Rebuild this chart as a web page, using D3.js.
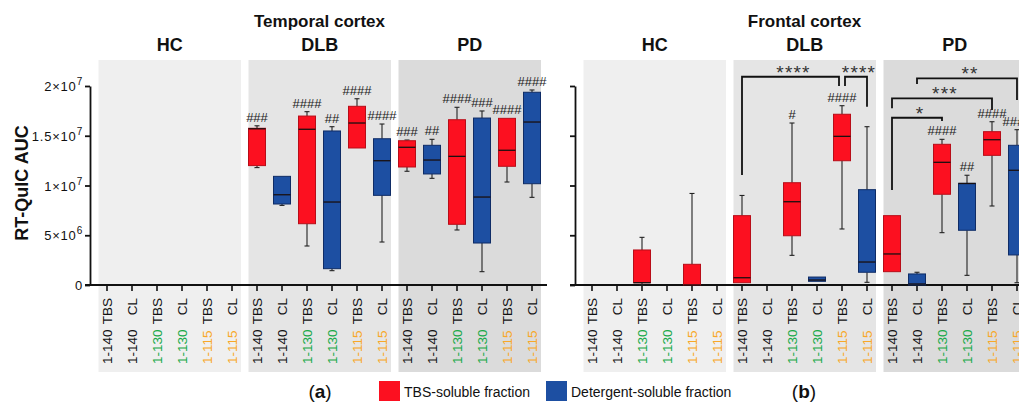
<!DOCTYPE html>
<html>
<head>
<meta charset="utf-8">
<script src="https://cdn.jsdelivr.net/npm/d3@7"></script>
<style>
  html, body { margin: 0; padding: 0; background: #fff; }
  svg { display: block; font-family: Arial, "Liberation Sans", sans-serif; }
</style>
</head>
<body>
<svg id="chart" width="1019" height="403"></svg>
<script>
// ---- data -------------------------------------------------------------
const groups = ["HC", "DLB", "PD"];
const peptides = ["1-140", "1-140", "1-130", "1-130", "1-115", "1-115"];
const fractions = ["TBS", "CL", "TBS", "CL", "TBS", "CL"];
const yTicks = [0, 5e6, 1e7, 1.5e7, 2e7];

// box statistics per lane: [min, q1, median, q3, max]
const temporalStats = [
  // HC
  [0, 0, 0, 0, 0], [0, 0, 0, 0, 0], [0, 0, 0, 0, 0],
  [0, 0, 0, 0, 0], [0, 0, 0, 0, 0], [0, 0, 0, 0, 0],
  // DLB
  [11.8e6, 12.0e6, 15.7e6, 15.75e6, 16.0e6],
  [8.0e6, 8.14e6, 9.07e6, 10.92e6, 10.92e6],
  [3.92e6, 6.16e6, 15.65e6, 16.98e6, 17.42e6],
  [1.44e6, 1.64e6, 8.34e6, 15.48e6, 15.91e6],
  [13.77e6, 13.77e6, 16.28e6, 17.96e6, 18.72e6],
  [4.32e6, 9.01e6, 12.49e6, 14.70e6, 16.18e6],
  // PD
  [11.43e6, 11.86e6, 13.84e6, 14.50e6, 14.57e6],
  [10.72e6, 11.16e6, 12.56e6, 14.04e6, 14.64e6],
  [5.53e6, 6.10e6, 12.93e6, 16.61e6, 17.86e6],
  [1.34e6, 4.22e6, 8.84e6, 16.78e6, 17.49e6],
  [10.35e6, 11.93e6, 13.54e6, 16.75e6, 16.75e6],
  [8.81e6, 10.18e6, 16.38e6, 19.37e6, 19.60e6]
];
const frontalStats = [
  // HC
  [0, 0, 0, 0, 0], [0, 0, 0, 0, 0],
  [0, 0.23e6, 0.23e6, 3.52e6, 4.79e6],
  [0, 0, 0, 0, 0],
  [0, 0, 0, 2.08e6, 9.2e6],
  [0, 0, 0, 0, 0],
  // DLB
  [0.23e6, 0.23e6, 0.73e6, 6.97e6, 9.0e6],
  [0, 0, 0, 0, 0],
  [2.98e6, 4.95e6, 8.37e6, 10.28e6, 16.28e6],
  [0.37e6, 0.37e6, 0.5e6, 0.80e6, 0.80e6],
  [5.63e6, 12.49e6, 14.94e6, 17.16e6, 18.02e6],
  [0.27e6, 1.28e6, 2.31e6, 9.58e6, 15.91e6],
  // PD
  [1.34e6, 1.34e6, 3.12e6, 6.97e6, 6.97e6],
  [0, 0, 0.1e6, 1.11e6, 1.28e6],
  [5.26e6, 9.12e6, 12.33e6, 14.14e6, 14.64e6],
  [0.97e6, 5.50e6, 10.2e6, 10.22e6, 11.03e6],
  [7.94e6, 13.03e6, 14.60e6, 15.41e6, 16.41e6],
  [0.23e6, 3.02e6, 11.53e6, 14.04e6, 15.61e6]
];

// "#" markers (versus HC) per lane
const temporalMarks = ["", "", "", "", "", "",
  "###", "", "####", "##", "####", "####",
  "###", "##", "####", "###", "####", "####"];
const frontalMarks = ["", "", "", "", "", "",
  "", "", "#", "", "####", "",
  "", "", "####", "##", "####", "####"];

// pairwise comparisons: lane indices, bracket height, leg ends (AUC units)
const frontalBrackets = [
  { from: 6, to: 10, top: 20.93e6, leftEnd: 11.06e6, rightEnd: 20.0e6, label: "****" },
  { from: 10, to: 11, top: 20.93e6, leftEnd: 20.0e6, rightEnd: 17.92e6, label: "****" },
  { from: 12, to: 14, top: 16.81e6, leftEnd: 9.55e6, rightEnd: 16.48e6, label: "*" },
  { from: 12, to: 16, top: 18.76e6, leftEnd: 17.76e6, rightEnd: 17.59e6, label: "***" },
  { from: 13, to: 17, top: 20.77e6, leftEnd: 20.2e6, rightEnd: 18.59e6, label: "**" }
];

// ---- drawing ----------------------------------------------------------
const svg = d3.select("#chart");
svg.append("rect").attr("width", 1019).attr("height", 403).attr("fill", "#fff");

const colors = {
  TBS: { fill: "#fc1020", stroke: "#b80d18" },
  CL: { fill: "#1d4fa2", stroke: "#0f2c66" }
};
const peptideColor = { "1-140": "#111", "1-130": "#18a948", "1-115": "#f8a829" };
const groupShade = { HC: "#efefef", DLB: "#e5e5e5", PD: "#dbdbdb" };

const lanes = [];
groups.forEach(g => peptides.forEach((p, i) =>
  lanes.push({ key: g + "|" + i, group: g, peptide: p, fraction: fractions[i] })));

const y = d3.scaleLinear().domain([0, 2e7]).range([285, 86]);

function drawPanel(opt) {
  const g = svg.append("g");
  const step = 25;
  const x = d3.scaleBand()
    .domain(lanes.map(d => d.key))
    .range([opt.firstLane - step / 2, opt.firstLane - step / 2 + step * lanes.length]);
  const cx = k => x(k) + x.bandwidth() / 2;

  // group shading
  groups.forEach(grp => {
    const ks = lanes.filter(d => d.group === grp).map(d => d.key);
    const x0 = cx(ks[0]) - 8.5, x1 = cx(ks[ks.length - 1]) + 9;
    g.append("rect").attr("x", x0).attr("y", 60).attr("width", x1 - x0).attr("height", 312)
      .attr("fill", groupShade[grp]);
    g.append("text").attr("x", (x0 + x1) / 2).attr("y", 51)
      .attr("text-anchor", "middle").attr("font-size", 18).attr("font-weight", "bold")
      .attr("fill", "#111").text(grp);
  });

  // panel title
  const midX = (cx(lanes[0].key) + cx(lanes[lanes.length - 1].key)) / 2;
  g.append("text").attr("x", midX).attr("y", 27).attr("text-anchor", "middle")
    .attr("font-size", 17).attr("font-weight", "bold").attr("fill", "#111").text(opt.title);

  // y axis
  const yAxis = g.append("g").attr("transform", `translate(${opt.axisX},0)`)
    .call(d3.axisLeft(y).tickValues(yTicks).tickSize(5).tickSizeOuter(0).tickFormat(""));
  yAxis.select(".domain").attr("stroke", "#111").attr("stroke-width", 1.8);
  yAxis.selectAll(".tick line").attr("stroke", "#111").attr("stroke-width", 1.8);
  if (opt.yLabels) {
    yAxis.selectAll(".tick").append("text")
      .attr("x", -7).attr("dy", "0.35em").attr("text-anchor", "end")
      .attr("font-size", 13).attr("letter-spacing", 0.8).attr("fill", "#111")
      .each(function (d) {
        const t = d3.select(this);
        if (d === 0) { t.text("0"); return; }
        const e = Math.floor(Math.log10(d) + 1e-9);
        const m = d / Math.pow(10, e);
        t.append("tspan").text(m + "\u00d710");
        t.append("tspan").attr("dy", -6).attr("font-size", 10).text(e);
      });
  }

  // x axis
  const xAxisY = y(0);
  const xAxis = g.append("g").attr("transform", `translate(0,${xAxisY})`)
    .call(d3.axisBottom(x).tickSize(6).tickSizeOuter(0).tickFormat(""));
  xAxis.select(".domain").remove();
  xAxis.selectAll(".tick line").attr("stroke", "#111").attr("stroke-width", 1.6);
  g.append("line").attr("x1", opt.axisX - 5).attr("x2", cx(lanes[lanes.length - 1].key) + 15)
    .attr("y1", xAxisY).attr("y2", xAxisY).attr("stroke", "#111").attr("stroke-width", 1.8);

  // lane labels
  lanes.forEach(d => {
    const px = cx(d.key);
    g.append("text").attr("transform", `translate(${px},298) rotate(-90)`)
      .attr("dy", "0.36em").attr("text-anchor", "end").attr("font-size", 13.5)
      .attr("fill", "#111").text(d.fraction);
    g.append("text").attr("transform", `translate(${px},364) rotate(-90)`)
      .attr("dy", "0.36em").attr("text-anchor", "start").attr("font-size", 13.5)
      .attr("fill", peptideColor[d.peptide]).text(d.peptide);
  });

  // boxes
  const bw = 17, cap = 5;
  lanes.forEach((d, i) => {
    const [mn, q1, md, q3, mx] = opt.stats[i];
    if (mx === 0) return;
    const px = cx(d.key), c = colors[d.fraction];
    const wk = g.append("g").attr("stroke", "#222").attr("stroke-width", 1.1);
    if (mx > q3) {
      wk.append("line").attr("x1", px).attr("x2", px).attr("y1", y(q3)).attr("y2", y(mx));
      wk.append("line").attr("x1", px - cap / 2).attr("x2", px + cap / 2).attr("y1", y(mx)).attr("y2", y(mx));
    }
    if (mn < q1) {
      wk.append("line").attr("x1", px).attr("x2", px).attr("y1", y(q1)).attr("y2", y(mn));
      wk.append("line").attr("x1", px - cap / 2).attr("x2", px + cap / 2).attr("y1", y(mn)).attr("y2", y(mn));
    }
    g.append("rect").attr("x", px - bw / 2).attr("y", y(q3))
      .attr("width", bw).attr("height", Math.max(y(q1) - y(q3), 1))
      .attr("fill", c.fill).attr("stroke", c.stroke).attr("stroke-width", 1);
    g.append("line").attr("x1", px - bw / 2).attr("x2", px + bw / 2)
      .attr("y1", y(md)).attr("y2", y(md)).attr("stroke", "#1a1010").attr("stroke-width", 1.3);
    const mark = opt.marks[i];
    if (mark) {
      g.append("text").attr("x", px).attr("y", y(mx) - 4).attr("text-anchor", "middle")
        .attr("font-size", 13).attr("fill", "#1a1a1a").text(mark);
    }
  });

  // comparison brackets
  (opt.brackets || []).forEach((b, bi, all) => {
    let x0 = cx(lanes[b.from].key), x1 = cx(lanes[b.to].key);
    if (all.some(o => o !== b && o.to === b.from && o.top === b.top)) x0 += 3;
    if (all.some(o => o !== b && o.from === b.to && o.top === b.top)) x1 -= 3;
    const yt = y(b.top);
    g.append("path")
      .attr("d", `M${x0},${y(b.leftEnd)}V${yt}H${x1}V${y(b.rightEnd)}`)
      .attr("fill", "none").attr("stroke", "#111").attr("stroke-width", 1.8);
    g.append("text").attr("x", (x0 + x1) / 2 + 3).attr("y", yt + 2).attr("text-anchor", "middle")
      .attr("font-size", 19).attr("letter-spacing", 1.2).attr("fill", "#333").text(b.label);
  });
}

drawPanel({ title: "Temporal cortex", axisX: 90, firstLane: 107, stats: temporalStats,
  marks: temporalMarks, yLabels: true });
drawPanel({ title: "Frontal cortex", axisX: 575, firstLane: 592, stats: frontalStats,
  marks: frontalMarks, brackets: frontalBrackets, yLabels: false });

// y-axis title
svg.append("text").attr("transform", "translate(28,183) rotate(-90)")
  .attr("text-anchor", "middle").attr("font-size", 18).attr("font-weight", "bold")
  .attr("fill", "#111").text("RT-QuIC AUC");

// panel letters
[["a", 320], ["b", 804]].forEach(([l, px]) => {
  const t = svg.append("text").attr("x", px).attr("y", 398).attr("text-anchor", "middle")
    .attr("font-size", 19).attr("fill", "#111");
  t.append("tspan").text("(");
  t.append("tspan").attr("font-weight", "bold").text(l);
  t.append("tspan").text(")");
});

// legend
const legendItems = [
  { key: "TBS", label: "TBS-soluble fraction", x: 379 },
  { key: "CL", label: "Detergent-soluble fraction", x: 546 }
];
legendItems.forEach(it => {
  svg.append("rect").attr("x", it.x).attr("y", 381).attr("width", 21).attr("height", 20)
    .attr("fill", colors[it.key].fill);
  svg.append("text").attr("x", it.x + 25).attr("y", 397).attr("font-size", 14)
    .attr("fill", "#111").text(it.label);
});
</script>
</body>
</html>
